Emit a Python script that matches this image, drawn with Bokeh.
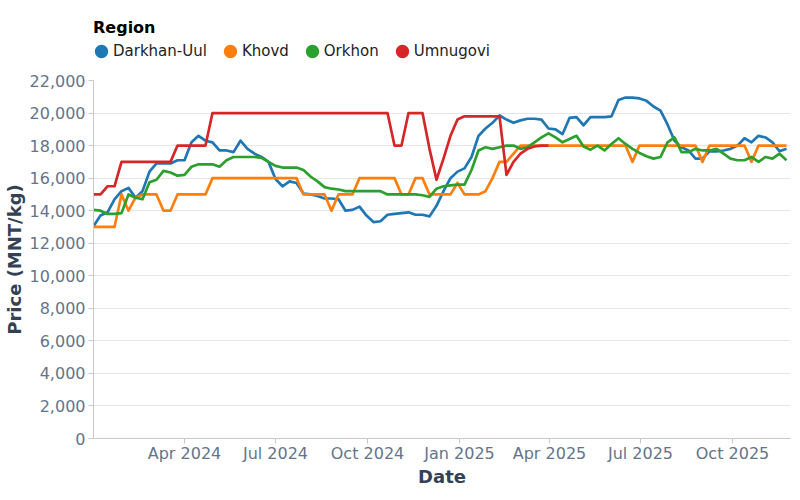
import pandas as pd
from bokeh.plotting import figure
from bokeh.layouts import column
from bokeh.models import (ColumnDataSource, Legend, LegendItem, FixedTicker,
                          DatetimeTickFormatter, NumeralTickFormatter, Range1d)
from bokeh.embed import file_html
from bokeh.resources import INLINE

nan = float("nan")

# weekly observation dates
start_date = "2024-01-01"
n_weeks = 100
range_end = "2025-11-28"

regions = ["Darkhan-Uul", "Khovd", "Orkhon", "Umnugovi"]
colors = ["#1f77b4", "#ff7f0e", "#2ca02c", "#d62728"]

darkhan_uul = [
    13050, 13700, 13900, 14700, 15200, 15400, 14800, 15200, 16400, 16900,
    16900, 16900, 17100, 17100, 18200, 18600, 18300, 18200, 17700, 17700,
    17600, 18300, 17800, 17500, 17300, 17000, 15950, 15500, 15800, 15700,
    15050, 15000, 14900, 14750, 14750, 14700, 14000, 14050, 14250, 13700,
    13300, 13350, 13750, 13800, 13850, 13900, 13750, 13750, 13650, 14300,
    15200, 16000, 16400, 16600, 17300, 18600, 19050, 19400, 19850, 19600,
    19400, 19550, 19650, 19650, 19600, 19050, 19000, 18700, 19700, 19750,
    19250, 19750, 19750, 19750, 19800, 20800, 20950, 20950, 20900, 20750,
    20400, 20150, 19300, 18300, 17900, 17700, 17200, 17200, 17650, 17650,
    17700, 17800, 18000, 18450, 18200, 18600, 18500, 18200, 17650, 17800,
]

khovd = [
    13000, 13000, 13000, 13000, 15000, 14000, 14800, 15000, 15000, 15000,
    14000, 14000, 15000, 15000, 15000, 15000, 15000, 16000, 16000, 16000,
    16000, 16000, 16000, 16000, 16000, 16000, 16000, 16000, 16000, 16000,
    15000, 15000, 15000, 15000, 14000, 15000, 15000, 15000, 16000, 16000,
    16000, 16000, 16000, 16000, 15000, 15000, 16000, 16000, 15000, 15000,
    15000, 15000, 15700, 15000, 15000, 15000, 15200, 16000, 17000, 17000,
    17500, 18000, 18000, 18000, 18000, 18000, 18000, 18000, 18000, 18000,
    18000, 18000, 18000, 18000, 18000, 18000, 18000, 17000, 18000, 18000,
    18000, 18000, 18000, 18000, 18000, 18000, 18000, 17000, 18000, 18000,
    18000, 18000, 18000, 18000, 17000, 18000, 18000, 18000, 18000, 18000,
]

orkhon = [
    14050, 14000, 13800, 13800, 13850, 15000, 14800, 14700, 15750, 15900,
    16450, 16350, 16150, 16200, 16700, 16850, 16850, 16850, 16700, 17100,
    17300, 17300, 17300, 17300, 17250, 17000, 16750, 16650, 16650, 16650,
    16500, 16100, 15800, 15450, 15350, 15300, 15200, 15200, 15200, 15200,
    15200, 15200, 15000, 15000, 15000, 15000, 15000, 14950, 14850, 15350,
    15500, 15550, 15600, 15600, 16500, 17700, 17900, 17800, 17900, 18000,
    18000, 17800, 17900, 18200, 18500, 18750, 18500, 18200, 18400, 18600,
    17950, 17750, 18000, 17700, 18100, 18450, 18100, 17800, 17550, 17350,
    17200, 17300, 18200, 18500, 17600, 17600, 17800, 17700, 17700, 17800,
    17500, 17200, 17100, 17100, 17300, 17000, 17300, 17200, 17500, 17100,
]

umnugovi = [
    15000, 15000, 15500, 15500, 17000, 17000, 17000, 17000, 17000, 17000,
    17000, 17000, 18000, 18000, 18000, 18000, 18000, 20000, 20000, 20000,
    20000, 20000, 20000, 20000, 20000, 20000, 20000, 20000, 20000, 20000,
    20000, 20000, 20000, 20000, 20000, 20000, 20000, 20000, 20000, 20000,
    20000, 20000, 20000, 18000, 18000, 20000, 20000, 20000, 17800, 15900,
    17200, 18600, 19600, 19800, 19800, 19800, 19800, 19800, 19800, 16200,
    17000, 17500, 17800, 17950, 18000, 18000, nan, nan, nan, nan,
    nan, nan, nan, nan, nan, nan, nan, nan, nan, nan,
    nan, nan, nan, nan, nan, nan, nan, nan, nan, nan,
    nan, nan, nan, nan, nan, nan, nan, nan, nan, nan,
]

series = [darkhan_uul, khovd, orkhon, umnugovi]

y_ticks = list(range(0, 22001, 2000))
x_tick_dates = ["2024-04-01", "2024-07-01", "2024-10-01", "2025-01-01",
                "2025-04-01", "2025-07-01", "2025-10-01"]

dates = pd.date_range(start_date, periods=n_weeks, freq="7D")

FONT = "DejaVu Sans"
LABEL_COLOR = "#64748b"
TITLE_COLOR = "#334155"
AXIS_COLOR = "#c8c8c8"

# ---------------- legend strip (separate small figure above the chart) -------------
leg = figure(width=800, height=70, output_backend="svg", toolbar_location=None,
             x_range=Range1d(0, 1), y_range=Range1d(0, 1),
             x_axis_location=None, y_axis_location=None,
             min_border=0)
leg.outline_line_color = None
leg.xgrid.visible = False
leg.ygrid.visible = False

items = []
for r, c in zip(regions, colors):
    dummy = leg.scatter(x=[nan], y=[nan], marker="circle", size=6,
                        fill_color=c, line_color=c, line_width=7)
    items.append(LegendItem(label=r, renderers=[dummy]))

legend = Legend(items=items, orientation="horizontal", location=(0, 10),
                title="Region", title_text_font=FONT, title_text_font_style="bold",
                title_text_font_size="16px", title_text_color="black", title_standoff=5,
                label_text_font=FONT, label_text_font_size="15px", label_text_color="#222222",
                border_line_color=None, background_fill_alpha=0,
                padding=0, margin=0, spacing=15, glyph_width=16, glyph_height=16,
                label_standoff=4)
leg.add_layout(legend)

# ---------------- main chart ----------------
p = figure(width=800, height=430, x_axis_type="datetime",
           output_backend="svg", toolbar_location=None,
           x_range=Range1d(start=pd.Timestamp(start_date), end=pd.Timestamp(range_end)),
           y_range=Range1d(0, 22000),
           min_border_left=93, min_border_right=10,
           min_border_top=10, min_border_bottom=62)
p.outline_line_color = None
p.background_fill_color = "white"

src = ColumnDataSource(dict(date=dates, **{r: s for r, s in zip(regions, series)}))
for r, c in zip(regions, colors):
    p.line(x="date", y=r, source=src, line_color=c, line_width=2.7, line_join="round")

p.xaxis.ticker = FixedTicker(ticks=[pd.Timestamp(d).value // 10**6 for d in x_tick_dates])
p.xaxis.formatter = DatetimeTickFormatter(days="%b %Y", months="%b %Y", years="%b %Y")
p.yaxis.ticker = FixedTicker(ticks=y_ticks)
p.yaxis.formatter = NumeralTickFormatter(format="0,0")
p.xaxis.axis_label = "Date"
p.yaxis.axis_label = "Price (MNT/kg)"

for ax in (p.xaxis, p.yaxis):
    ax.axis_line_color = AXIS_COLOR
    ax.major_tick_line_color = AXIS_COLOR
    ax.minor_tick_line_color = None
    ax.major_tick_out = 5
    ax.major_tick_in = 0
    ax.major_label_text_font = FONT
    ax.major_label_text_font_size = "16px"
    ax.major_label_text_color = LABEL_COLOR
    ax.axis_label_text_font = FONT
    ax.axis_label_text_font_size = "18px"
    ax.axis_label_text_font_style = "bold"
    ax.axis_label_text_color = TITLE_COLOR

p.xaxis.major_label_standoff = 0
p.xaxis.axis_label_standoff = 0
p.yaxis.major_label_standoff = 3
p.yaxis.axis_label_standoff = 2

p.xgrid.visible = False
p.ygrid.grid_line_color = "#e6e6e6"
p.ygrid.grid_line_width = 1

layout = column(leg, p, spacing=0)
open("out.html", "w").write(file_html(layout, INLINE))
